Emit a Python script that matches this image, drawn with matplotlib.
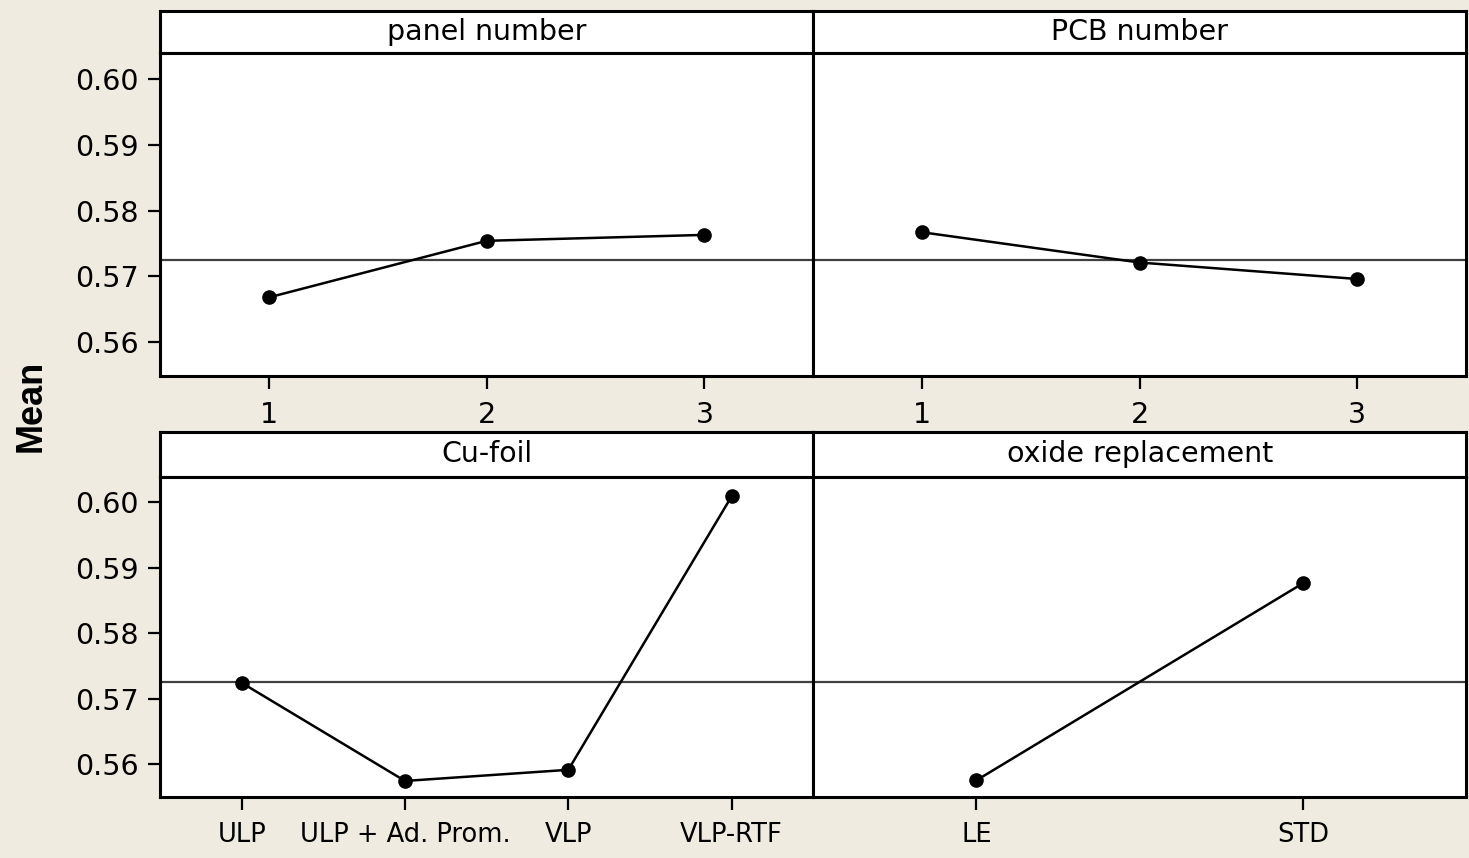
import matplotlib
matplotlib.use("Agg")
import matplotlib.pyplot as plt
import numpy as np

# Main effects plot for means
grand_mean = 0.5725

panel_levels = ['1', '2', '3']
panel_means = [0.5668, 0.5754, 0.5763]

pcb_levels = ['1', '2', '3']
pcb_means = [0.5767, 0.5721, 0.5696]

foil_levels = ['ULP', 'ULP + Ad. Prom.', 'VLP', 'VLP-RTF']
foil_means = [0.5724, 0.5574, 0.5591, 0.6009]

oxide_levels = ['LE', 'STD']
oxide_means = [0.5575, 0.5876]

titles = ['panel number', 'PCB number', 'Cu-foil', 'oxide replacement']
levels = [panel_levels, pcb_levels, foil_levels, oxide_levels]
means = [panel_means, pcb_means, foil_means, oxide_means]
yticks = [0.56, 0.57, 0.58, 0.59, 0.60]

W, H = 1469, 858
bg = '#EFEBE1'
fig = plt.figure(figsize=(W/100, H/100), dpi=100, facecolor=bg)

# panel geometry in pixels: (left, right) and (header_top, header_bottom, plot_bottom)
cols = [(160, 813.3), (813.3, 1466)]
rows = [(10.7, 53.3, 375.7), (431.7, 476.7, 797.3)]

def box(x0, x1, y0, y1):
    return [x0/W, 1 - y1/H, (x1 - x0)/W, (y1 - y0)/H]

for k in range(4):
    r, c = divmod(k, 2)
    x0, x1 = cols[c]
    ht, hb, pb = rows[r]

    hax = fig.add_axes(box(x0, x1, ht, hb))
    hax.set_facecolor('white')
    hax.set_xticks([]); hax.set_yticks([])
    for s in hax.spines.values():
        s.set_linewidth(2.2)
    hax.text(0.5, 0.5, titles[k], ha='center', va='center', fontsize=20.5,
             transform=hax.transAxes)

    ax = fig.add_axes(box(x0, x1, hb, pb))
    ax.set_facecolor('white')
    n = len(levels[k])
    x = np.arange(1, n + 1)
    ax.axhline(grand_mean, color='#404040', lw=1.6, zorder=1)
    ax.plot(x, means[k], 'k-', lw=1.8, marker='o', ms=9.5, zorder=3)
    ax.set_xlim(0.5, n + 0.5)
    ax.set_ylim(0.5549, 0.6039)
    ax.set_xticks(x)
    fs = 20.5 if k < 2 else 18.5
    ax.set_xticklabels(levels[k], fontsize=fs)
    ax.tick_params(axis='x', length=9, width=1.6, pad=9)
    if c == 0:
        ax.set_yticks(yticks)
        ax.set_yticklabels(['%.2f' % v for v in yticks], fontsize=20.5)
        ax.tick_params(axis='y', length=8.5, width=1.6, pad=7)
    else:
        ax.set_yticks([])
    for s in ax.spines.values():
        s.set_linewidth(2.2)

fig.text(31/W, 1 - 406/H, 'Mean', rotation=90, ha='center', va='center',
         fontsize=26, fontweight='bold', family='Liberation Sans')

fig.savefig('out.png', dpi=100, facecolor=bg)
